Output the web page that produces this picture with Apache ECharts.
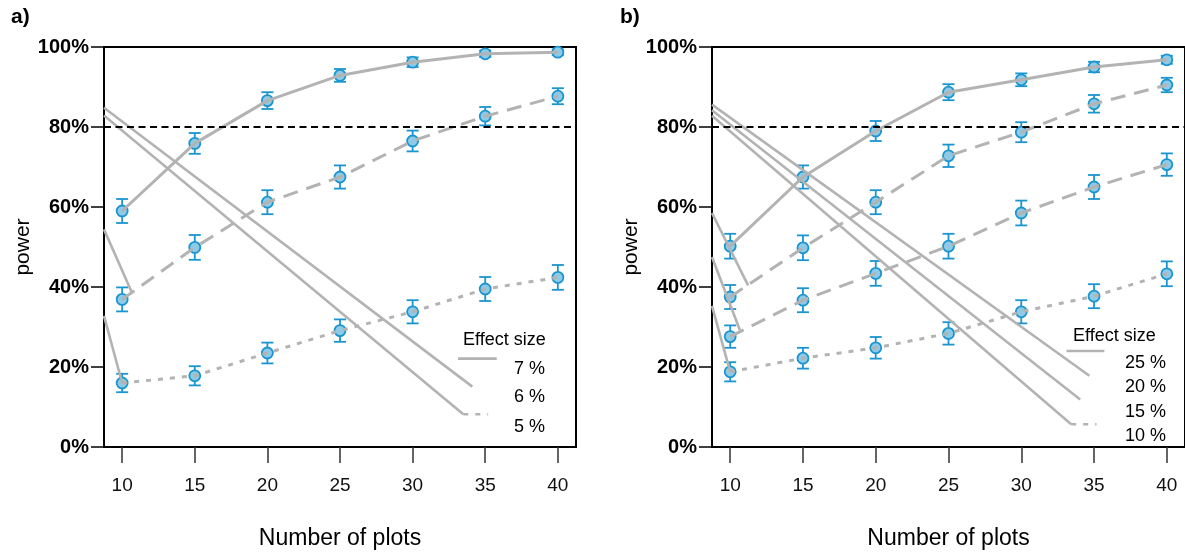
<!DOCTYPE html>
<html>
<head>
<meta charset="utf-8">
<script src="https://cdn.jsdelivr.net/npm/echarts@6/dist/echarts.min.js"></script>
<style>
  html, body { margin: 0; padding: 0; background: #fff; }
  #chart { width: 1185px; height: 555px; }
</style>
</head>
<body>
<div id="chart"></div>
<script>
// x categories (number of plots) and tick labels
const plots = [10, 15, 20, 25, 30, 35, 40];
const xTicks = [10, 15, 20, 25, 30, 35, 40];

// panel a) power (%) and half-width of the error bars (%)
const powerA7 = [59.0, 75.9, 86.6, 92.9, 96.2, 98.3, 98.7];
const powerA6 = [36.9, 49.9, 61.2, 67.5, 76.5, 82.7, 87.7];
const powerA5 = [16.0, 17.8, 23.5, 29.1, 33.8, 39.5, 42.4];
const ciA7 = [3.0, 2.6, 2.1, 1.6, 1.2, 0.8, 0.7];
const ciA6 = [3.0, 3.1, 3.0, 2.9, 2.6, 2.3, 2.0];
const ciA5 = [2.3, 2.4, 2.6, 2.8, 2.9, 3.0, 3.1];

// panel b)
const powerB25 = [50.2, 67.5, 79.0, 88.7, 91.8, 95.0, 96.8];
const powerB20 = [37.5, 49.8, 61.2, 72.8, 78.7, 85.8, 90.5];
const powerB15 = [27.6, 36.7, 43.4, 50.2, 58.5, 65.0, 70.6];
const powerB10 = [18.8, 22.2, 24.8, 28.4, 33.8, 37.7, 43.3];
const ciB25 = [3.1, 2.9, 2.5, 2.0, 1.6, 1.3, 1.0];
const ciB20 = [3.0, 3.1, 3.0, 2.8, 2.5, 2.2, 1.8];
const ciB15 = [2.8, 3.0, 3.1, 3.1, 3.1, 3.0, 2.8];
const ciB10 = [2.4, 2.6, 2.7, 2.8, 2.9, 3.0, 3.1];

// stray grey strokes of the original figure (legend keys and leftovers), in axis units
const strayA = [
  [[8.75, 84.8], [34.11, 15.1]],
  [[8.75, 82.9], [33.49, 8.2]],
  [[33.13, 22.1], [35.79, 22.1]],
  [[8.75, 54.4], [10.66, 38.7]],
  [[8.75, 32.8], [10, 16.0]]
];
const dotKeyA = [[33.49, 8.2], [35.2, 8.2]];
const strayB = [
  [[8.75, 85.6], [34.68, 17.8]],
  [[8.75, 84.2], [34.05, 11.9]],
  [[8.75, 82.8], [33.43, 5.7]],
  [[33.11, 24.0], [35.71, 24.0]],
  [[8.75, 58.5], [11.23, 40.4]],
  [[8.75, 47.5], [10.67, 29.2]],
  [[8.75, 35.3], [10, 18.8]]
];
const dotKeyB = [[33.43, 5.7], [35.17, 5.7]];

const target = 80;

const GREY = '#b3b3b3';
const BLUE = '#1a95cf';
const FILL = '#8ecae6';
const FONT = 'Liberation Sans, Arial, sans-serif';
const DASH = [15, 9];
const DOT = [5, 7];

const chart = echarts.init(document.getElementById('chart'));

const errorBars = (idx, vals, ci) => ({
    type: 'custom',
    xAxisIndex: idx,
    yAxisIndex: idx,
    z: 2,
    silent: true,
    data: plots.map((x, i) => [x, vals[i] - ci[i], vals[i] + ci[i]]),
    encode: { x: 0, y: [1, 2] },
    renderItem: (params, api) => {
        const x = api.value(0);
        const lo = api.coord([x, api.value(1)]);
        const hi = api.coord([x, api.value(2)]);
        const w = 6;
        const st = { stroke: BLUE, lineWidth: 1.8 };
        return {
            type: 'group',
            children: [
                { type: 'line', shape: { x1: lo[0], y1: lo[1], x2: hi[0], y2: hi[1] }, style: st },
                { type: 'line', shape: { x1: lo[0] - w, y1: lo[1], x2: lo[0] + w, y2: lo[1] }, style: st },
                { type: 'line', shape: { x1: hi[0] - w, y1: hi[1], x2: hi[0] + w, y2: hi[1] }, style: st }
            ]
        };
    }
});

const dots = (idx, vals) => ({
    type: 'scatter',
    xAxisIndex: idx,
    yAxisIndex: idx,
    z: 3,
    silent: true,
    symbol: 'circle',
    symbolSize: 11,
    itemStyle: { color: FILL, borderColor: BLUE, borderWidth: 1.8, opacity: 1 },
    data: plots.map((x, i) => [x, vals[i]])
});

const curve = (idx, vals, dash) => ({
    type: 'line',
    xAxisIndex: idx,
    yAxisIndex: idx,
    z: 4,
    silent: true,
    showSymbol: false,
    lineStyle: { color: GREY, width: 3, type: dash, cap: 'butt' },
    data: plots.map((x, i) => [x, vals[i]])
});

const stray = (idx, pts, dash) => ({
    type: 'line',
    xAxisIndex: idx,
    yAxisIndex: idx,
    z: 4,
    silent: true,
    showSymbol: false,
    lineStyle: { color: GREY, width: 2.6, type: dash || 'solid' },
    data: pts
});

const refLine = (idx) => ({
    type: 'line',
    xAxisIndex: idx,
    yAxisIndex: idx,
    z: 1,
    data: [],
    markLine: {
        silent: true,
        symbol: ['none', 'none'],
        label: { show: false },
        lineStyle: { color: '#000', width: 2, type: [7, 4.5] },
        data: [{ yAxis: target }]
    }
});

const xAxisOf = (idx) => ({
    type: 'value',
    gridIndex: idx,
    min: 8.75,
    max: 41.25,
    name: 'Number of plots',
    nameLocation: 'middle',
    nameGap: 80,
    nameTextStyle: { fontSize: 23, color: '#000', fontFamily: FONT },
    splitLine: { show: false },
    axisLine: { lineStyle: { color: '#000', width: 2 } },
    axisTick: { customValues: xTicks, length: 16, lineStyle: { color: '#333', width: 1.5 } },
    axisLabel: { customValues: xTicks, fontSize: 19, margin: 29, color: '#111', fontFamily: FONT }
});

const yAxisOf = (idx) => ({
    type: 'value',
    gridIndex: idx,
    min: 0,
    max: 100,
    interval: 20,
    name: 'power',
    nameLocation: 'middle',
    nameGap: 70,
    nameTextStyle: { fontSize: 21, color: '#000', fontFamily: FONT },
    splitLine: { show: false },
    axisLine: { lineStyle: { color: '#000', width: 2 } },
    axisTick: { length: 13, lineStyle: { color: '#000', width: 1.5 } },
    axisLabel: { formatter: '{value}%', fontSize: 20, fontWeight: 'bold', margin: 15, color: '#000', fontFamily: FONT }
});

const txt = (left, top, text, size, extra) => ({
    type: 'text',
    left: left,
    top: top,
    style: Object.assign({ text: text, fontSize: size, fontFamily: FONT, fill: '#000' }, extra || {})
});

const option = {
    backgroundColor: '#fff',
    animation: false,
    grid: [
        { left: 104, top: 47, width: 472, height: 409, show: true, borderColor: '#000', borderWidth: 2 },
        { left: 712, top: 47, width: 475, height: 409, show: true, borderColor: '#000', borderWidth: 2 }
    ],
    xAxis: [xAxisOf(0), xAxisOf(1)],
    yAxis: [yAxisOf(0), yAxisOf(1)],
    graphic: [
        txt(11, 7, 'a)', 21, { fontWeight: 'bold' }),
        txt(620, 7, 'b)', 21, { fontWeight: 'bold' }),
        txt(463, 331, 'Effect size', 18),
        txt(514, 360, '7 %', 18),
        txt(514, 388, '6 %', 18),
        txt(514, 418, '5 %', 18),
        txt(1073, 327, 'Effect size', 18),
        txt(1125, 354, '25 %', 18),
        txt(1125, 378, '20 %', 18),
        txt(1125, 403, '15 %', 18),
        txt(1125, 427, '10 %', 18)
    ],
    series: [
        refLine(0),
        refLine(1),
        errorBars(0, powerA7, ciA7),
        errorBars(0, powerA6, ciA6),
        errorBars(0, powerA5, ciA5),
        dots(0, powerA7),
        dots(0, powerA6),
        dots(0, powerA5),
        curve(0, powerA7, 'solid'),
        curve(0, powerA6, DASH),
        curve(0, powerA5, DOT),
        errorBars(1, powerB25, ciB25),
        errorBars(1, powerB20, ciB20),
        errorBars(1, powerB15, ciB15),
        errorBars(1, powerB10, ciB10),
        dots(1, powerB25),
        dots(1, powerB20),
        dots(1, powerB15),
        dots(1, powerB10),
        curve(1, powerB25, 'solid'),
        curve(1, powerB20, DASH),
        curve(1, powerB15, DASH),
        curve(1, powerB10, DOT)
    ]
        .concat(strayA.map(s => stray(0, s)))
        .concat([stray(0, dotKeyA, DOT)])
        .concat(strayB.map(s => stray(1, s)))
        .concat([stray(1, dotKeyB, DOT)])
};

chart.setOption(option);
</script>
</body>
</html>
